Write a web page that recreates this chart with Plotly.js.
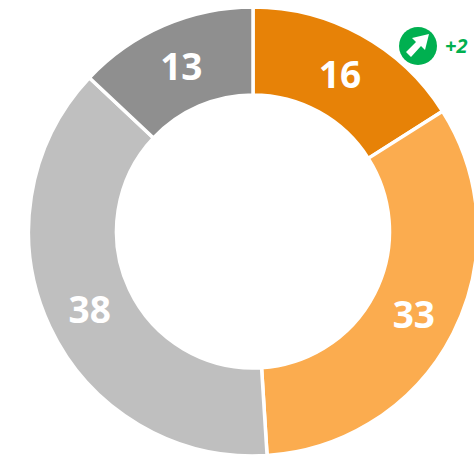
<!DOCTYPE html>
<html><head><meta charset="utf-8">
<script src="https://cdn.plot.ly/plotly-3.0.1.min.js"></script>
<style>html,body{margin:0;padding:0;background:#fff;overflow:hidden}#c{width:480px;height:456px}</style>
</head><body><div id="c"></div>
<script>
const segmentValues = [16, 33, 38, 13];
const segmentColors = ['#E78207', '#FBAC4F', '#BFBFBF', '#8F8F8F'];
const badgeText = '+2';
const W = 480, H = 456;
const px = x => x / W, py = y => 1 - y / H;
const arrow = [[406,52],[416,42],[412,38],[429,34],[425,50],[421,46],[411,57]];
const arrowPath = arrow.map((p,i)=>(i?'L':'M')+px(p[0])+','+py(p[1])).join(' ')+' Z';
Plotly.newPlot('c', [{
  type:'pie', values:segmentValues, sort:false, direction:'clockwise', rotation:0,
  hole:0.608, textinfo:'value', textposition:'inside', insidetextorientation:'horizontal',
  texttemplate:'<b>%{value}</b>',
  textfont:{family:'Open Sans, sans-serif', size:37, color:'#fff'},
  marker:{colors:segmentColors, line:{color:'#fff', width:3.5}},
  domain:{x:[28.5/W,477.5/W], y:[1-456/H,1-7/H]}, showlegend:false
}], {
  width:W, height:H, margin:{l:0,r:0,t:0,b:0,pad:0}, paper_bgcolor:'#fff',
  shapes:[
    {type:'circle',xref:'paper',yref:'paper',x0:px(399),x1:px(437),y0:py(65),y1:py(27),fillcolor:'#00B050',line:{width:0}},
    {type:'path',xref:'paper',yref:'paper',path:arrowPath,fillcolor:'#fff',line:{width:0}}
  ],
  annotations:[{xref:'paper',yref:'paper',x:px(456),y:py(46),xanchor:'center',yanchor:'middle',text:badgeText,showarrow:false,
    font:{family:'Open Sans, sans-serif',size:20,weight:700,style:'italic',color:'#00B050'}}]
},{displayModeBar:false,responsive:false});
</script></body></html>
